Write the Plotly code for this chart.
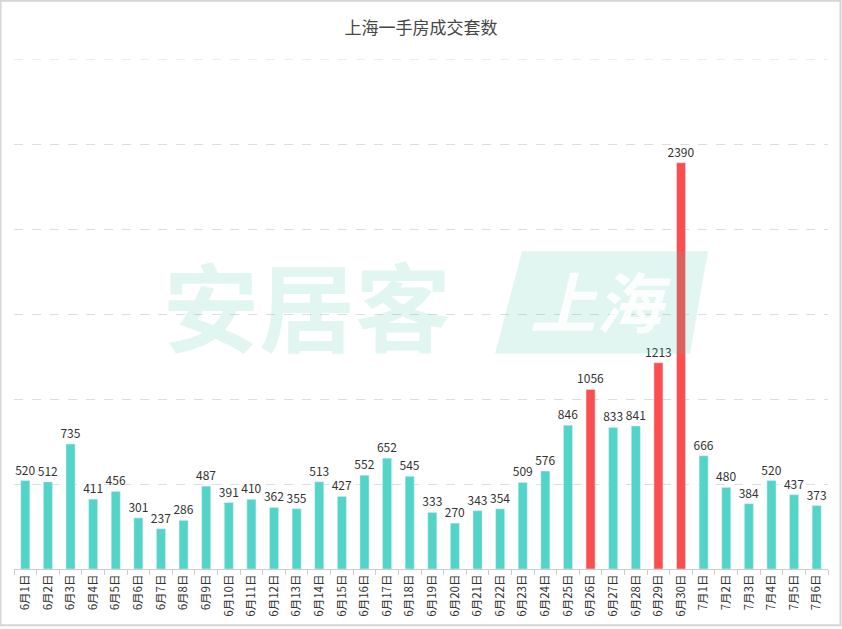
import plotly.graph_objects as go

dates = ["6月1日","6月2日","6月3日","6月4日","6月5日","6月6日","6月7日","6月8日","6月9日","6月10日",
         "6月11日","6月12日","6月13日","6月14日","6月15日","6月16日","6月17日","6月18日","6月19日","6月20日",
         "6月21日","6月22日","6月23日","6月24日","6月25日","6月26日","6月27日","6月28日","6月29日","6月30日",
         "7月1日","7月2日","7月3日","7月4日","7月5日","7月6日"]
values = [520,512,735,411,456,301,237,286,487,391,
          410,362,355,513,427,552,652,545,333,270,
          343,354,509,576,846,1056,833,841,1213,2390,
          666,480,384,520,437,373]
highlight = ["6月26日","6月29日","6月30日"]

TEAL = "#52d4c8"
RED = "#fb4e4e"
colors = [RED if d in highlight else TEAL for d in dates]

W, H = 842, 629
ML, MR, MT, MB = 14, 14, 59, 58
pw, ph = W - ML - MR, H - MT - MB

def px(x):
    return (x - ML) / pw

def py(y):
    return (H - MB - y) / ph

fig = go.Figure()
fig.add_trace(go.Bar(
    x=dates, y=values, marker_color=colors, width=0.4,
    text=values, textposition="outside", cliponaxis=False, constraintext="none",
    textfont=dict(size=12, color="#333333", family="Noto Sans CJK SC"),
))

WM = "rgba(80,200,170,0.17)"

shapes = [
    # outer border
    dict(type="rect", xref="paper", yref="paper", x0=px(0.5), x1=px(W - 1.5), y0=py(0.5), y1=py(H - 1.5),
         line=dict(color="#d6d6d6", width=2), fillcolor="rgba(0,0,0,0)", layer="below"),
    # top gridline at 3000
    dict(type="line", xref="paper", yref="y", x0=0, x1=1, y0=3000, y1=3000,
         line=dict(color="#dddddd", width=1, dash="dash"), layer="below"),
    # watermark tile behind 上海
    dict(type="path", xref="paper", yref="paper",
         path=f"M {px(522)},{py(252)} L {px(708)},{py(252)} L {px(690)},{py(355)} L {px(495)},{py(355)} Z",
         fillcolor=WM, line=dict(width=0), layer="above"),
]

annotations = [
    dict(text="<b>安居客</b>", xref="paper", yref="paper", x=px(307), y=py(303), showarrow=False,
         font=dict(size=96, color=WM, family="Noto Sans CJK SC"), xanchor="center", yanchor="middle"),
    dict(text="<b><i>上海</i></b>", xref="paper", yref="paper", x=px(600), y=py(300), showarrow=False,
         font=dict(size=66, color="rgba(255,255,255,0.85)", family="Noto Sans CJK SC"), xanchor="center", yanchor="middle"),
]

fig.update_layout(
    width=W, height=H,
    margin=dict(l=ML, r=MR, t=MT, b=MB),
    paper_bgcolor="white", plot_bgcolor="white",
    showlegend=False,
    bargap=0.6,
    title=dict(text="上海一手房成交套数", x=0.5, xanchor="center", y=1 - 28 / H, yanchor="middle",
               font=dict(size=17, color="#464646", family="Noto Sans CJK SC")),
    xaxis=dict(type="category", tickangle=-90, showgrid=False, showline=True, linecolor="#cccccc",
               ticks="outside", tickson="boundaries", ticklen=5, tickcolor="#cccccc",
               tickfont=dict(size=11.5, color="#333333", family="Noto Sans CJK SC")),
    yaxis=dict(range=[0, 3000], dtick=500, showticklabels=False, showgrid=True,
               gridcolor="#dddddd", griddash="dash", gridwidth=1, zeroline=False, showline=False),
    shapes=shapes, annotations=annotations,
    font=dict(family="Noto Sans CJK SC"),
)

fig.write_html("out.html", config={"displayModeBar": False},
               post_script="document.body.style.margin='0';document.body.style.overflow='hidden';")
